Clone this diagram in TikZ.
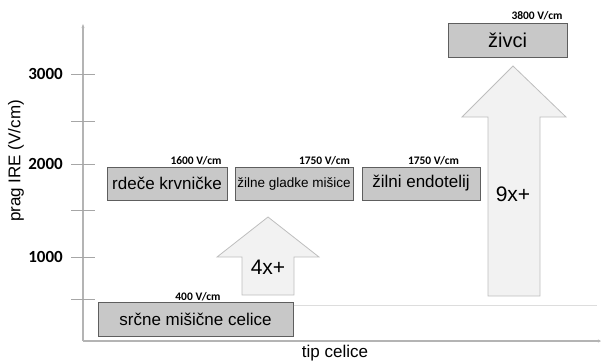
\documentclass[tikz,border=0pt]{standalone}
\usepackage{fontspec}
\setmainfont{Liberation Sans}
\newfontfamily\carlito{Carlito}
\usetikzlibrary{arrows.meta}
\definecolor{boxgray}{HTML}{C8C8C8}
\definecolor{boxline}{HTML}{5E5E5E}
\definecolor{arrowfill}{HTML}{F2F2F2}
\definecolor{arrowline}{HTML}{BEBEBE}
\definecolor{axisgray}{HTML}{B4B4B4}
\definecolor{tickgray}{HTML}{A6A6A6}
\definecolor{basegray}{HTML}{DDDDDD}

\begin{document}
\begin{tikzpicture}[x=1pt,y=1pt,yscale=-1,
    cellbox/.style={draw=boxline, fill=boxgray, line width=1pt, minimum height=33, inner sep=0pt, align=center},
    volt/.style={font=\carlito\bfseries\fontsize{11.5}{13}\selectfont, inner sep=0pt},
    ticklab/.style={font=\carlito\bfseries\fontsize{17}{20}\selectfont, inner sep=0pt, anchor=east},
    bigarrow/.style={draw=arrowline, fill=arrowfill, line width=0.8pt},
    axistext/.style={font=\fontsize{17}{20}\selectfont, inner sep=0pt}]

    \useasboundingbox (0,0) rectangle (603,360);

    % axes
    \draw (83,341) coordinate (orig);
    \draw (83,24)  coordinate (ytop);
    \draw (601,341) coordinate (xend);
    \draw [axisgray, line width=1.1pt, -{Stealth[length=4pt,width=3pt]}] (orig) -- (ytop);
    \draw [axisgray, line width=1.1pt, -{Stealth[length=3pt,width=3pt]}] (orig) -- (xend);
    \foreach \ty in {74,121,164,210,257,299}
        \draw [tickgray, line width=0.9pt] (71,\ty) -- (95,\ty);
    \draw (63,74)  node [ticklab] (t3000) {3000};
    \draw (63,164) node [ticklab] (t2000) {2000};
    \draw (63,257) node [ticklab] (t1000) {1000};
    \draw (16,161) node [axistext, rotate=90] (ylab) {prag IRE (V/cm)};
    \draw (335,353) node [axistext] (xlab) {tip celice};

    % block arrows
    \draw [bigarrow] (242,295) -- (242,257) -- (217,257) -- (268,217) -- (319,257) -- (294,257) -- (294,295) -- cycle;
    \draw [bigarrow] (488,296) -- (488,117) -- (462,117) -- (513,66) -- (566,117) -- (540,117) -- (540,296) -- cycle;
    \draw (268,267) node [font=\fontsize{21}{24}\selectfont] (f4) {4x+};
    \draw (513,194) node [font=\fontsize{21}{24}\selectfont] (f9) {9x+};

    % cell types
    \draw (195.5,319) node [cellbox, minimum width=195, minimum height=34, font=\fontsize{17}{20}\selectfont] (srce) {srčne mišične celice};
    \draw (167,183.5) node [cellbox, minimum width=120, font=\fontsize{17}{20}\selectfont] (kri) {rdeče krvničke};
    \draw (294,183.5) node [cellbox, minimum width=118, font=\fontsize{13.5}{16}\selectfont] (misice) {žilne gladke mišice};
    \draw (421,183.5) node [cellbox, minimum width=118, font=\fontsize{17}{20}\selectfont] (endo) {žilni endotelij};
    \draw (507.5,40) node [cellbox, minimum width=119, minimum height=34, font=\fontsize{20}{24}\selectfont] (zivci) {živci};

    \draw [basegray, line width=1pt] (srce.east |- 0,305) -- (597,305);

    % thresholds
    \draw (198,297) node [volt] (v400) {400 V/cm};
    \draw (196,161) node [volt] (v1600) {1600 V/cm};
    \draw (324.5,161) node [volt] (v1750a) {1750 V/cm};
    \draw (433.5,161) node [volt] (v1750b) {1750 V/cm};
    \draw (537,16) node [volt] (v3800) {3800 V/cm};

\end{tikzpicture}
\end{document}
